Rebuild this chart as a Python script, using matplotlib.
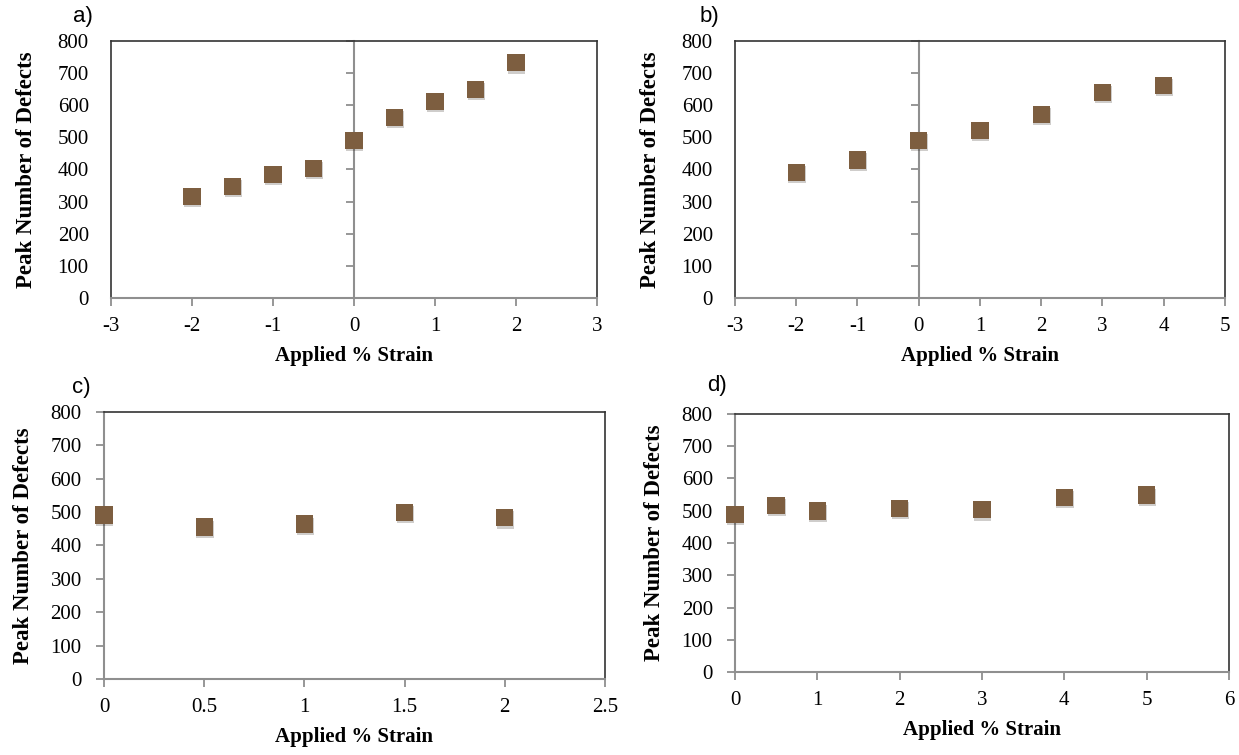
import matplotlib

matplotlib.use("Agg")
import matplotlib.pyplot as plt  # noqa: E402
import matplotlib.patheffects as pe  # noqa: E402

# data
strain_a = [-2, -1.5, -1, -0.5, 0, 0.5, 1, 1.5, 2]
defects_a = [316, 347, 385, 404, 490, 562, 612, 649, 732]

strain_b = [-2, -1, 0, 1, 2, 3, 4]
defects_b = [391, 430, 490, 522, 572, 640, 662]

strain_c = [0, 0.5, 1, 1.5, 2]
defects_c = [491, 455, 464, 499, 483]

strain_d = [0, 0.5, 1, 2, 3, 4, 5]
defects_d = [489, 516, 499, 507, 503, 541, 549]

xlims = [(-3, 3), (-3, 5), (0, 2.5), (0, 6)]
xticks = [
    [-3, -2, -1, 0, 1, 2, 3],
    [-3, -2, -1, 0, 1, 2, 3, 4, 5],
    [0, 0.5, 1, 1.5, 2, 2.5],
    [0, 1, 2, 3, 4, 5, 6],
]
yticks = list(range(0, 801, 100))
panel_labels = ["a)", "b)", "c)", "d)"]

MARKER = "#7d5e40"
SPINE = "#333333"
GREY = "#8f8f8f"
SERIF = "Liberation Serif"

# axes boxes in figure fractions: left, bottom, width, height
boxes = [
    (0.0896, 0.6053, 0.3922, 0.3404),
    (0.5932, 0.6053, 0.3955, 0.3404),
    (0.0839, 0.1007, 0.4044, 0.3536),
    (0.5932, 0.1099, 0.3987, 0.3418),
]
label_pos = [(0.059, 0.978), (0.565, 0.978), (0.058, 0.487), (0.571, 0.490)]

fig = plt.figure(figsize=(12.39, 7.55), dpi=100)

series = [
    (strain_a, defects_a),
    (strain_b, defects_b),
    (strain_c, defects_c),
    (strain_d, defects_d),
]

for i, (xs, ys) in enumerate(series):
    ax = fig.add_axes(boxes[i])
    ax.scatter(
        xs, ys, s=155, marker="s", color=MARKER, zorder=5, linewidths=0,
        path_effects=[pe.SimplePatchShadow(offset=(0.6, -1.6), alpha=0.22), pe.Normal()],
        clip_on=False,
    )
    ax.set_xlim(*xlims[i])
    ax.set_ylim(0, 800)
    ax.set_xticks(xticks[i])
    ax.set_xticklabels([f"{t:g}" for t in xticks[i]], fontsize=15, family=SERIF)
    ax.set_yticks(yticks)
    ax.set_yticklabels([str(t) for t in yticks], fontsize=15, family=SERIF)

    for side in ("top", "right", "left"):
        ax.spines[side].set_color(SPINE)
        ax.spines[side].set_linewidth(1.2)
    ax.spines["bottom"].set_color(GREY)
    ax.spines["bottom"].set_linewidth(1.5)
    ax.tick_params(axis="x", direction="out", length=6, width=1.3, color=GREY, pad=8)

    if xlims[i][0] < 0:
        # vertical axis crosses at zero, labels stay on the left
        ax.tick_params(axis="y", length=0, pad=16)
        zero = ax.secondary_yaxis(0, transform=ax.transData)
        zero.set_yticks(yticks)
        zero.set_yticklabels([])
        zero.tick_params(axis="y", direction="out", length=6, width=1.3, color=GREY)
        zero.spines["left"].set_color(GREY)
        zero.spines["left"].set_linewidth(1.5)
    else:
        ax.spines["left"].set_color(GREY)
        ax.spines["left"].set_linewidth(1.5)
        ax.tick_params(axis="y", direction="out", length=6, width=1.3, color=GREY, pad=10)

    ax.set_xlabel("Applied % Strain", fontsize=15, fontweight="bold", family=SERIF, labelpad=7)
    ax.set_ylabel("Peak Number of Defects", fontsize=16.5, fontweight="bold", family=SERIF,
                  labelpad=15 if xlims[i][0] < 0 else 12)

    fig.text(*label_pos[i], panel_labels[i], fontsize=16, family="Liberation Sans",
             ha="left", va="center")

fig.savefig("out.png", dpi=100)
